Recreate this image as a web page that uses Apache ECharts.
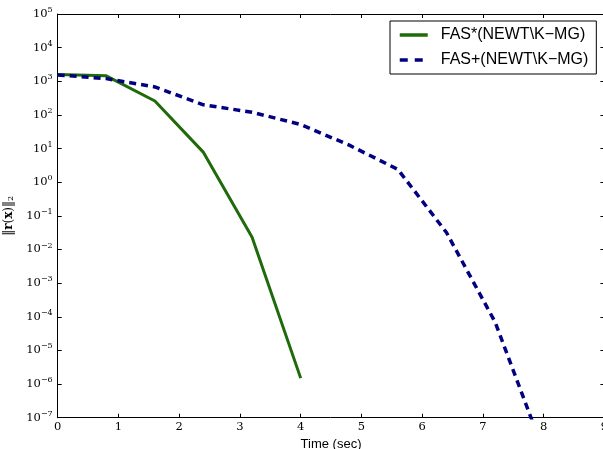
<!DOCTYPE html>
<html>
<head>
<meta charset="utf-8">
<script src="https://cdn.jsdelivr.net/npm/echarts@6/dist/echarts.min.js"></script>
<style>
html,body{margin:0;padding:0;background:#fff;}
#chart{width:603px;height:449px;}
</style>
</head>
<body>
<div id="chart"></div>
<script>
// ---- data ----
var seriesNames = ['FAS*(NEWT\\K\u2212MG)', 'FAS+(NEWT\\K\u2212MG)'];
var timesStar = [0, 0.8, 1.6, 2.4, 3.2, 4.0];
var residStar = [1600, 1450, 260, 7.7, 0.023, 1.5e-6];
var timesPlus = [0, 0.8, 1.6, 2.4, 3.2, 4.0, 4.8, 5.6, 6.4, 7.2, 8.0];
var residPlus = [1550, 1200, 680, 200, 120, 52, 12.6, 2.4, 0.032, 7e-5, 1e-8];
var xTicks = [0, 1, 2, 3, 4, 5, 6, 7, 8, 9];
var yExponents = [-7, -6, -5, -4, -3, -2, -1, 0, 1, 2, 3, 4, 5];
var xTitle = 'Time (sec)';

function pairs(xs, ys) { return xs.map(function (x, i) { return [x, ys[i]]; }); }

var serif = 'DejaVu Serif';
var chart = echarts.init(document.getElementById('chart'), null, {renderer: 'canvas'});

var axisLine = {show: true, onZero: false, lineStyle: {color: '#000', width: 1}};
var tickIn = {show: true, inside: true, length: 4, lineStyle: {color: '#000', width: 1}};

chart.setOption({
  animation: false,
  backgroundColor: '#fff',
  grid: {left: 57.7, right: -1.4, top: 14, bottom: 31.3, containLabel: false, outerBoundsMode: 'none'},
  legend: {
    data: [
      {name: seriesNames[0]},
      {name: seriesNames[1], lineStyle: {type: [8, 7]}}
    ],
    orient: 'vertical',
    left: 390, top: 21,
    padding: [6, 8, 6, 8],
    itemGap: 9,
    itemWidth: 28, itemHeight: 14,
    borderColor: '#000', borderWidth: 1, borderRadius: 0,
    backgroundColor: '#fff',
    itemStyle: {color: 'rgba(0,0,0,0)', borderWidth: 0, opacity: 0},
    lineStyle: {width: 3.5},
    textStyle: {fontFamily: 'Liberation Sans', fontSize: 16, color: '#000', padding: [0, 0, 0, 8]}
  },
  xAxis: [{
    type: 'value', min: xTicks[0], max: xTicks[xTicks.length - 1], interval: 1,
    position: 'bottom',
    name: xTitle, nameLocation: 'middle', nameGap: 16,
    nameTextStyle: {fontFamily: 'Liberation Sans', fontSize: 13, color: '#000'},
    axisLine: axisLine, axisTick: tickIn,
    axisLabel: {fontFamily: serif, fontSize: 11.5, color: '#000', margin: 3},
    splitLine: {show: false}
  }, {
    type: 'value', min: xTicks[0], max: xTicks[xTicks.length - 1], interval: 1,
    position: 'top',
    axisLine: axisLine, axisTick: tickIn, axisLabel: {show: false}, splitLine: {show: false}
  }],
  yAxis: [{
    type: 'log', logBase: 10,
    min: Math.pow(10, yExponents[0]), max: Math.pow(10, yExponents[yExponents.length - 1]),
    interval: 1,
    position: 'left',
    name: '\u2016{bb|r}({bb|x})\u2016{sub|2}',
    nameLocation: 'middle', nameRotate: 90, nameGap: 33,
    nameTextStyle: {
      fontFamily: serif, fontSize: 12, color: '#000',
      rich: {
        bb: {fontFamily: serif, fontSize: 12, fontWeight: 'bold', color: '#000'},
        sub: {fontFamily: serif, fontSize: 8, color: '#000', padding: [0, 0, -4, 0]}
      }
    },
    axisLine: axisLine, axisTick: tickIn,
    axisLabel: {
      margin: 5, color: '#000',
      formatter: function (v) {
        var e = Math.round(Math.log(v) / Math.LN10);
        var s = e < 0 ? '\u2212' + (-e) : '' + e;
        return '{b|10}{s|' + s + '}';
      },
      rich: {
        b: {fontFamily: serif, fontSize: 11.5, color: '#000'},
        s: {fontFamily: serif, fontSize: 8, color: '#000', padding: [0, 0, 8, 0]}
      }
    },
    splitLine: {show: false}
  }, {
    type: 'log', logBase: 10,
    min: Math.pow(10, yExponents[0]), max: Math.pow(10, yExponents[yExponents.length - 1]),
    interval: 1,
    position: 'right',
    axisLine: axisLine, axisTick: tickIn, axisLabel: {show: false}, splitLine: {show: false}
  }],
  series: [{
    name: seriesNames[0], type: 'line', xAxisIndex: 0, yAxisIndex: 0,
    data: pairs(timesStar, residStar),
    showSymbol: false, symbol: 'none', clip: true,
    lineStyle: {color: '#1f6a0a', width: 3, type: 'solid'},
    itemStyle: {color: '#1f6a0a'}
  }, {
    name: seriesNames[1], type: 'line', xAxisIndex: 0, yAxisIndex: 0,
    data: pairs(timesPlus, residPlus),
    showSymbol: false, symbol: 'none', clip: true,
    lineStyle: {color: '#000080', width: 3.5, type: [7, 5]},
    itemStyle: {color: '#000080'}
  }]
});
</script>
</body>
</html>
